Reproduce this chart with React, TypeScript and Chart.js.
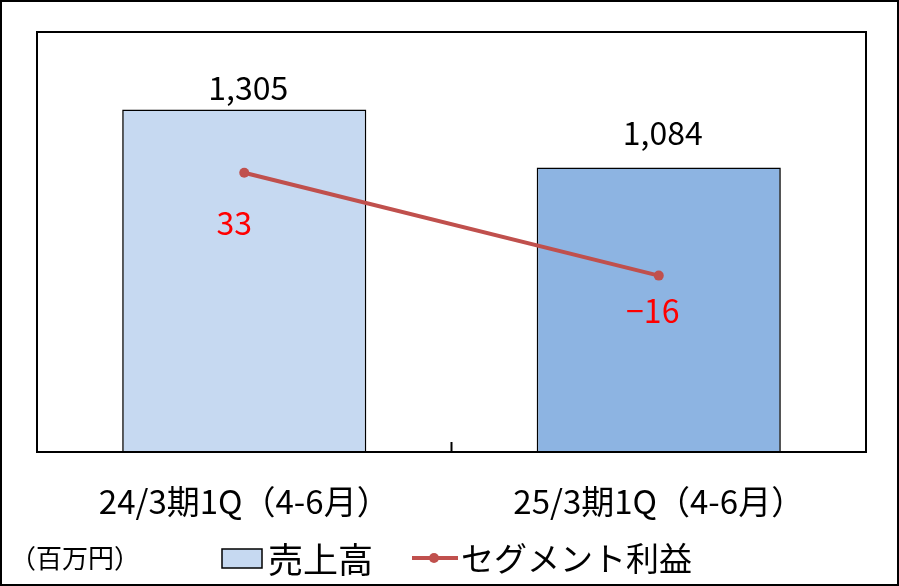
import React, { useEffect, useRef } from "react";
import { Chart, registerables } from "chart.js";

Chart.register(...registerables);

const categories = ["24/3期1Q（4-6月）", "25/3期1Q（4-6月）"];
const salesValues = [1305, 1084];
const profitValues = [33, -16];
const salesLabel = "売上高";
const profitLabel = "セグメント利益";
const unitLabel = "（百万円）";

const FONT = '"Noto Sans CJK JP", "Noto Sans", sans-serif';

const fmtSigned = (v: number) => (v < 0 ? "−" + Math.abs(v) : String(v));

const overlayPlugin = {
  id: "overlay",
  afterDatasetsDraw(chart: any) {
    const ctx = chart.ctx;
    const area = chart.chartArea;
    ctx.save();
    // plot frame
    ctx.strokeStyle = "#000";
    ctx.lineWidth = 2;
    ctx.strokeRect(area.left, area.top, area.right - area.left, area.bottom - area.top);
    // category divider tick
    const xs = chart.scales.x;
    const mid = (xs.getPixelForValue(0) + xs.getPixelForValue(1)) / 2;
    ctx.beginPath();
    ctx.moveTo(mid, area.bottom);
    ctx.lineTo(mid, area.bottom - 10);
    ctx.stroke();

    // bar labels
    const barMeta = chart.getDatasetMeta(0);
    const barOffsets = [22, 35];
    ctx.font = `32px ${FONT}`;
    ctx.fillStyle = "#000";
    ctx.textAlign = "center";
    ctx.textBaseline = "middle";
    barMeta.data.forEach((el: any, i: number) => {
      ctx.fillText(salesValues[i].toLocaleString("en-US"), el.x + 4, el.y - barOffsets[i]);
    });
    // line labels
    const lineMeta = chart.getDatasetMeta(1);
    const lineOffsets = [50, 35];
    const lineXOff = [-10, -6];
    ctx.fillStyle = "#FF0000";
    lineMeta.data.forEach((el: any, i: number) => {
      ctx.fillText(fmtSigned(profitValues[i]), el.x + lineXOff[i], el.y + lineOffsets[i]);
    });

    // legend
    const ly = 558;
    ctx.fillStyle = "#000";
    ctx.font = `26px ${FONT}`;
    ctx.textAlign = "left";
    ctx.fillText(unitLabel, 10, ly);
    ctx.fillStyle = "#C6D9F1";
    ctx.fillRect(222, 549, 40, 19);
    ctx.lineWidth = 1.5;
    ctx.strokeStyle = "#000";
    ctx.strokeRect(222, 549, 40, 19);
    ctx.fillStyle = "#000";
    ctx.font = `35px ${FONT}`;
    ctx.fillText(salesLabel, 268, ly + 2);
    ctx.strokeStyle = "#C0504D";
    ctx.lineWidth = 4;
    ctx.beginPath();
    ctx.moveTo(412, ly);
    ctx.lineTo(458, ly);
    ctx.stroke();
    ctx.fillStyle = "#C0504D";
    ctx.beginPath();
    ctx.arc(434, ly, 5, 0, Math.PI * 2);
    ctx.fill();
    ctx.fillStyle = "#000";
    ctx.font = `33px ${FONT}`;
    ctx.fillText(profitLabel, 461, ly);

    // outer frame
    ctx.strokeStyle = "#000";
    ctx.lineWidth = 2;
    ctx.strokeRect(1, 1, chart.width - 2, chart.height - 2);
    ctx.restore();
  },
};

export default function App() {
  const ref = useRef<HTMLCanvasElement | null>(null);
  useEffect(() => {
    document.body.style.margin = "0";
    const chart = new Chart(ref.current as HTMLCanvasElement, {
      type: "bar",
      data: {
        labels: categories,
        datasets: [
          {
            type: "bar",
            label: salesLabel,
            data: salesValues,
            backgroundColor: ["#C6D9F1", "#8DB4E2"],
            borderColor: "#000",
            borderWidth: 1.6,
            barPercentage: 0.589,
            categoryPercentage: 1,
            yAxisID: "y",
            order: 1,
          },
          {
            type: "line",
            label: profitLabel,
            data: profitValues,
            borderColor: "#C0504D",
            backgroundColor: "#C0504D",
            borderWidth: 4,
            pointRadius: 5,
            pointBackgroundColor: "#C0504D",
            pointBorderWidth: 0,
            yAxisID: "y1",
            order: 0,
          },
        ],
      } as any,
      options: {
        animation: false,
        responsive: true,
        maintainAspectRatio: false,
        layout: { padding: { left: 37, right: 33, top: 32, bottom: 44 } },
        plugins: { legend: { display: false }, tooltip: { enabled: false } },
        scales: {
          x: {
            grid: { display: false, drawTicks: false },
            border: { display: false },
            ticks: { color: "#000", font: { size: 33, family: FONT }, padding: 30, maxRotation: 0 },
            afterFit: (s: any) => {
              s.height = 90;
            },
          },
          y: { display: false, min: 0, max: 1600 },
          y1: { display: false, min: -100, max: 100, position: "right" },
        },
      } as any,
      plugins: [overlayPlugin],
    });
    return () => chart.destroy();
  }, []);
  return (
    <div style={{ width: 899, height: 586, position: "relative" }}>
      <canvas ref={ref} />
    </div>
  );
}
